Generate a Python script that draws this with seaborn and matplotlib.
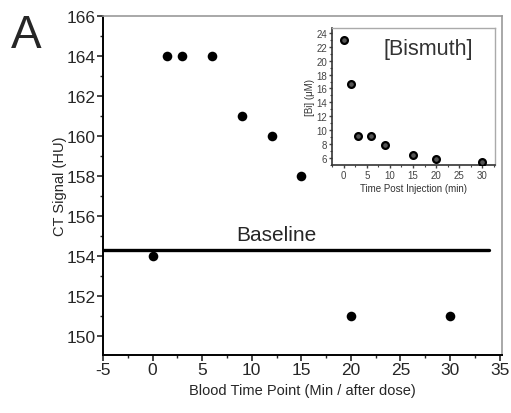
import matplotlib
matplotlib.use("Agg")
import matplotlib.pyplot as plt
from matplotlib.ticker import MultipleLocator
import seaborn as sns
import pandas as pd

# Main panel data
blood_time = [0, 1.5, 3, 6, 9, 12, 15, 20, 30]
ct_signal = [154, 164, 164, 164, 161, 160, 158, 151, 151]
baseline_value = 154.3

# Inset data
inset_time = [0, 1.5, 3, 6, 9, 15, 20, 30]
bismuth_um = [23, 16.6, 9.1, 9.1, 7.9, 6.5, 5.9, 5.4]

sns.set_style("ticks")
plt.rcParams['font.family'] = ['Liberation Sans', 'DejaVu Sans']
plt.rcParams['axes.unicode_minus'] = False

fig = plt.figure(figsize=(5.11, 4.14), dpi=100)
ax = fig.add_axes([0.2016, 0.140, 0.780, 0.819])

main_df = pd.DataFrame({"t": blood_time, "ct": ct_signal})
sns.scatterplot(data=main_df, x="t", y="ct", ax=ax, color="black", s=48,
                edgecolor="black", linewidth=0, zorder=3)
ax.plot([-5, 33.9], [baseline_value, baseline_value], color="black", lw=2.4, zorder=2)
ax.text(8.4, 155.1, "Baseline", fontsize=15, va="center", ha="left")

ax.set_xlim(-5, 35.2)
ax.set_ylim(149.05, 166)
ax.xaxis.set_major_locator(MultipleLocator(5))
ax.xaxis.set_minor_locator(MultipleLocator(2.5))
ax.yaxis.set_major_locator(MultipleLocator(2))
ax.yaxis.set_minor_locator(MultipleLocator(1))
ax.tick_params(which="major", direction="out", length=4, width=1.2, labelsize=12.5, pad=1)
ax.tick_params(which="minor", direction="out", length=2.5, width=1.0)
ax.set_xlabel("Blood Time Point (Min / after dose)", fontsize=10.5, labelpad=4)
ax.set_ylabel("CT Signal (HU)", fontsize=10.5, labelpad=0)
for s in ["left", "bottom"]:
    ax.spines[s].set_color("black")
    ax.spines[s].set_linewidth(1.4)
for s in ["top", "right"]:
    ax.spines[s].set_visible(True)
    ax.spines[s].set_color("#999999")
    ax.spines[s].set_linewidth(1.2)

fig.text(0.022, 0.912, "A", fontsize=33, ha="left", va="center")

# Inset
ins = fig.add_axes([0.650, 0.599, 0.319, 0.331])
inset_df = pd.DataFrame({"t": inset_time, "bi": bismuth_um})
sns.scatterplot(data=inset_df, x="t", y="bi", ax=ins, color="#555555", s=24,
                edgecolor="black", linewidth=1.6, zorder=3)
ins.set_xlim(-2.5, 32.8)
ins.set_ylim(5.0, 24.7)
ins.xaxis.set_major_locator(MultipleLocator(5))
ins.yaxis.set_minor_locator(MultipleLocator(1))
ins.xaxis.set_minor_locator(MultipleLocator(2.5))
ins.set_yticks(range(6, 25, 2))
ins.tick_params(which="major", direction="out", length=2.5, width=1.0, labelsize=7, pad=1, colors="#444444")
ins.tick_params(which="minor", direction="out", length=1.5, width=0.8, colors="#444444")
ins.set_xlabel("Time Post Injection (min)", fontsize=7, labelpad=2, color="#333333")
ins.set_ylabel("[Bi] (\u03bcM)", fontsize=7, labelpad=1, color="#333333")
ins.text(0.865, 0.925, "[Bismuth]", transform=ins.transAxes, fontsize=15.5,
         ha="right", va="top", color="#333333")
for s in ["left", "bottom"]:
    ins.spines[s].set_color("#333333")
    ins.spines[s].set_linewidth(1.2)
for s in ["top", "right"]:
    ins.spines[s].set_visible(True)
    ins.spines[s].set_color("#aaaaaa")
    ins.spines[s].set_linewidth(1.0)
ins.patch.set_alpha(0)

fig.savefig("out.png", dpi=100)
